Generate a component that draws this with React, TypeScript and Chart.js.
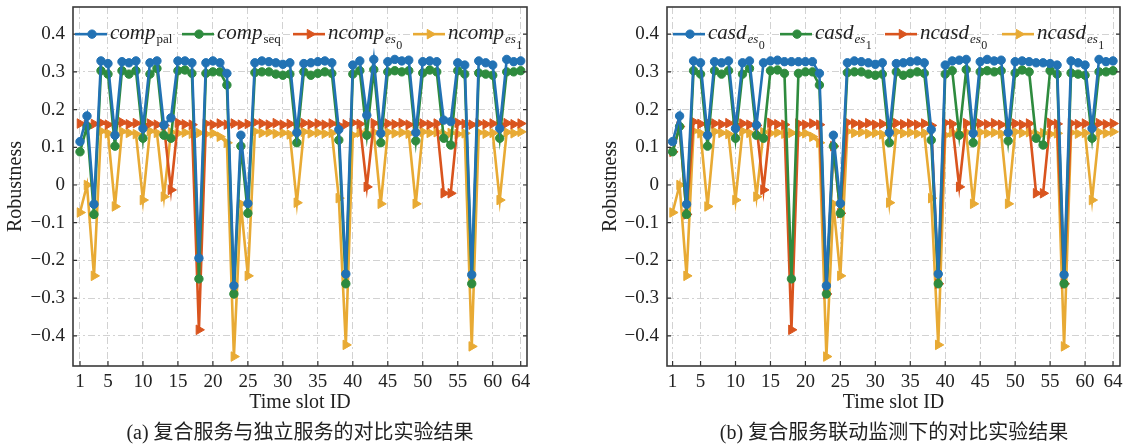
import React, { useEffect, useRef } from 'react';
import { Chart, registerables } from 'chart.js';

Chart.register(...registerables);

// ---------------- data ----------------
const timeSlots = Array.from({ length: 64 }, (_, i) => i + 1);
const xTickValues = [1, 5, 10, 15, 20, 25, 30, 35, 40, 45, 50, 55, 60, 64];
const yTickValues = [-0.4, -0.3, -0.2, -0.1, 0, 0.1, 0.2, 0.3, 0.4];

// panel (a)
const compPal = [
  0.115, 0.183, -0.051, 0.329, 0.322, 0.132, 0.327, 0.324,
  0.329, 0.150, 0.324, 0.329, 0.159, 0.178, 0.329, 0.329,
  0.324, -0.194, 0.324, 0.329, 0.324, 0.296, -0.267, 0.132,
  -0.049, 0.324, 0.329, 0.327, 0.324, 0.320, 0.324, 0.139,
  0.322, 0.324, 0.327, 0.329, 0.324, 0.147, -0.236, 0.318,
  0.329, 0.185, 0.333, 0.137, 0.327, 0.333, 0.329, 0.331,
  0.139, 0.327, 0.329, 0.327, 0.172, 0.168, 0.324, 0.318,
  -0.238, 0.329, 0.324, 0.318, 0.150, 0.333, 0.327, 0.329,
];
const compSeq = [
  0.088, 0.155, -0.078, 0.303, 0.294, 0.103, 0.303, 0.294,
  0.303, 0.124, 0.294, 0.309, 0.132, 0.124, 0.303, 0.305,
  0.296, -0.249, 0.296, 0.300, 0.300, 0.265, -0.289, 0.103,
  -0.075, 0.298, 0.300, 0.300, 0.294, 0.291, 0.294, 0.112,
  0.300, 0.291, 0.296, 0.300, 0.296, 0.119, -0.262, 0.294,
  0.303, 0.132, 0.306, 0.112, 0.300, 0.303, 0.300, 0.303,
  0.117, 0.297, 0.305, 0.300, 0.124, 0.106, 0.303, 0.294,
  -0.262, 0.297, 0.294, 0.291, 0.124, 0.300, 0.300, 0.303,
];
const ncompEs0 = [
  0.163, 0.160, 0.162, 0.165, 0.160, 0.163, 0.166, 0.161,
  0.164, 0.159, 0.163, 0.160, 0.158, -0.013, 0.165, 0.161,
  0.160, -0.384, 0.163, 0.160, 0.163, 0.160, 0.163, 0.160,
  0.162, 0.166, 0.163, 0.160, 0.164, 0.160, 0.162, 0.159,
  0.164, 0.161, 0.163, 0.160, 0.163, 0.158, 0.161, 0.165,
  0.162, -0.005, 0.164, 0.160, 0.163, 0.161, 0.164, 0.160,
  0.162, 0.163, 0.160, 0.163, -0.022, -0.022, 0.165, 0.162,
  0.160, 0.164, 0.161, 0.163, 0.160, 0.164, 0.161, 0.163,
];
const ncompEs1 = [
  -0.073, 0.000, -0.241, 0.143, 0.137, -0.057, 0.142, 0.138,
  0.135, -0.040, 0.143, 0.138, -0.031, 0.140, 0.137, 0.139,
  0.136, 0.138, 0.135, 0.137, 0.128, 0.112, -0.455, -0.050,
  -0.241, 0.142, 0.138, 0.140, 0.136, 0.138, 0.134, -0.047,
  0.141, 0.137, 0.139, 0.136, 0.138, -0.035, -0.424, 0.132,
  0.139, 0.137, 0.140, -0.050, 0.140, 0.137, 0.139, 0.136,
  -0.050, 0.141, 0.138, 0.140, 0.136, 0.138, 0.135, 0.137,
  -0.428, 0.139, 0.136, 0.138, -0.040, 0.140, 0.137, 0.141,
];

// panel (b)
const casdEs0 = [
  0.115, 0.183, -0.051, 0.329, 0.324, 0.132, 0.327, 0.324,
  0.329, 0.150, 0.324, 0.329, 0.159, 0.324, 0.329, 0.331,
  0.327, 0.327, 0.327, 0.327, 0.327, 0.296, -0.267, 0.132,
  -0.049, 0.324, 0.329, 0.327, 0.324, 0.320, 0.324, 0.139,
  0.322, 0.324, 0.327, 0.329, 0.324, 0.147, -0.236, 0.318,
  0.329, 0.331, 0.333, 0.137, 0.327, 0.333, 0.329, 0.331,
  0.139, 0.327, 0.329, 0.327, 0.324, 0.324, 0.322, 0.318,
  -0.238, 0.329, 0.324, 0.318, 0.150, 0.333, 0.327, 0.329,
];
const casdEs1 = [
  0.088, 0.155, -0.078, 0.303, 0.294, 0.103, 0.303, 0.294,
  0.303, 0.124, 0.294, 0.309, 0.132, 0.124, 0.303, 0.305,
  0.296, -0.249, 0.296, 0.300, 0.300, 0.265, -0.289, 0.103,
  -0.075, 0.298, 0.300, 0.300, 0.294, 0.291, 0.294, 0.112,
  0.300, 0.291, 0.296, 0.300, 0.296, 0.119, -0.262, 0.294,
  0.303, 0.132, 0.306, 0.112, 0.300, 0.303, 0.300, 0.303,
  0.117, 0.297, 0.305, 0.300, 0.124, 0.106, 0.303, 0.294,
  -0.262, 0.297, 0.294, 0.291, 0.124, 0.300, 0.300, 0.303,
];
const ncasdEs0 = [
  0.088, 0.155, -0.078, 0.168, 0.162, 0.165, 0.163, 0.161,
  0.164, 0.159, 0.163, 0.160, 0.158, -0.013, 0.165, 0.161,
  0.160, -0.384, 0.163, 0.160, 0.163, 0.160, -0.289, 0.103,
  -0.075, 0.166, 0.163, 0.160, 0.164, 0.160, 0.162, 0.159,
  0.164, 0.161, 0.163, 0.160, 0.163, 0.158, -0.262, 0.165,
  0.162, -0.005, 0.164, 0.160, 0.163, 0.161, 0.164, 0.160,
  0.162, 0.163, 0.160, 0.163, -0.022, -0.022, 0.165, 0.162,
  -0.262, 0.164, 0.161, 0.163, 0.160, 0.164, 0.161, 0.163,
];
const ncasdEs1 = [
  -0.073, 0.000, -0.241, 0.143, 0.137, -0.057, 0.142, 0.138,
  0.135, -0.040, 0.143, 0.138, -0.031, 0.140, 0.137, 0.139,
  0.136, 0.138, 0.135, 0.137, 0.128, 0.112, -0.455, -0.050,
  -0.241, 0.142, 0.138, 0.140, 0.136, 0.138, 0.134, -0.047,
  0.141, 0.137, 0.139, 0.136, 0.138, -0.035, -0.424, 0.132,
  0.139, 0.137, 0.140, -0.050, 0.140, 0.137, 0.139, 0.136,
  -0.050, 0.141, 0.138, 0.140, 0.136, 0.138, 0.135, 0.137,
  -0.428, 0.139, 0.136, 0.138, -0.040, 0.140, 0.137, 0.141,
];

// legend texts (main italic name, subscript, sub-subscript)
const legendA = [
  { main: 'comp', sub: 'pal', subItalic: false, subsub: '' },
  { main: 'comp', sub: 'seq', subItalic: false, subsub: '' },
  { main: 'ncomp', sub: 'es', subItalic: true, subsub: '0' },
  { main: 'ncomp', sub: 'es', subItalic: true, subsub: '1' },
];
const legendB = [
  { main: 'casd', sub: 'es', subItalic: true, subsub: '0' },
  { main: 'casd', sub: 'es', subItalic: true, subsub: '1' },
  { main: 'ncasd', sub: 'es', subItalic: true, subsub: '0' },
  { main: 'ncasd', sub: 'es', subItalic: true, subsub: '1' },
];
const seriesNamesA = ['comp_pal', 'comp_seq', 'ncomp_es0', 'ncomp_es1'];
const seriesNamesB = ['casd_es0', 'casd_es1', 'ncasd_es0', 'ncasd_es1'];
const xTitle = 'Time slot ID';
const yTitle = 'Robustness';
const captionA = '(a) 复合服务与独立服务的对比实验结果';
const captionB = '(b) 复合服务联动监测下的对比实验结果';

// ---------------- style ----------------
const COLORS = ['#2272b4', '#2e8b3e', '#d9541e', '#e8aa34'];
const MARKERS = ['circle', 'circle', 'triangle', 'triangle'];
const SERIF = "'Liberation Serif', 'DejaVu Serif', serif";
const TEXT = '#222222';
const H = 448;

type PanelDef = {
  values: number[][];
  names: string[];
  legend: typeof legendA;
  legendX: number[];
  xMin: number;
  xMax: number;
  padLeft: number;
  padRight: number;
  yAxisWidth: number;
};

function drawMarker(ctx: CanvasRenderingContext2D, kind: string, x: number, y: number, color: string) {
  ctx.save();
  ctx.fillStyle = color;
  ctx.strokeStyle = color;
  ctx.lineWidth = 1;
  ctx.beginPath();
  if (kind === 'circle') {
    ctx.arc(x, y, 4.2, 0, Math.PI * 2);
  } else {
    const r = 5.5;
    let rad = Math.PI / 2;
    ctx.moveTo(x + Math.sin(rad) * r, y - Math.cos(rad) * r);
    rad += (2 * Math.PI) / 3;
    ctx.lineTo(x + Math.sin(rad) * r, y - Math.cos(rad) * r);
    rad += (2 * Math.PI) / 3;
    ctx.lineTo(x + Math.sin(rad) * r, y - Math.cos(rad) * r);
    ctx.closePath();
  }
  ctx.fill();
  ctx.stroke();
  ctx.restore();
}

function makeOverlay(def: PanelDef) {
  return {
    id: 'overlay',
    afterDraw(chart: any) {
      const { ctx, chartArea: a, scales } = chart;
      ctx.save();
      // inward ticks
      ctx.strokeStyle = '#333';
      ctx.lineWidth = 1.2;
      ctx.beginPath();
      scales.x.ticks.forEach((t: any) => {
        const px = scales.x.getPixelForValue(t.value);
        ctx.moveTo(px, a.bottom);
        ctx.lineTo(px, a.bottom - 5);
      });
      scales.y.ticks.forEach((t: any) => {
        const py = scales.y.getPixelForValue(t.value);
        ctx.moveTo(a.left, py);
        ctx.lineTo(a.left + 4, py);
        ctx.moveTo(a.right, py);
        ctx.lineTo(a.right - 4, py);
      });
      ctx.stroke();
      // frame
      ctx.strokeStyle = '#3a3a3a';
      ctx.lineWidth = 1.6;
      ctx.strokeRect(a.left, a.top, a.right - a.left, a.bottom - a.top);

      // legend
      const ly = scales.y.getPixelForValue(0.4);
      def.legend.forEach((item, i) => {
        const x0 = a.left + def.legendX[i];
        const color = COLORS[i];
        ctx.strokeStyle = color;
        ctx.lineWidth = 2.6;
        ctx.beginPath();
        ctx.moveTo(x0, ly);
        ctx.lineTo(x0 + 32, ly);
        ctx.stroke();
        drawMarker(ctx, MARKERS[i], x0 + 17, ly, color);
        let tx = x0 + 35;
        ctx.fillStyle = TEXT;
        ctx.textAlign = 'left';
        ctx.textBaseline = 'alphabetic';
        ctx.font = `italic 21px ${SERIF}`;
        ctx.fillText(item.main, tx, ly + 5);
        tx += ctx.measureText(item.main).width + 1;
        ctx.font = `${item.subItalic ? 'italic ' : ''}13px ${SERIF}`;
        ctx.fillText(item.sub, tx, ly + 9);
        const subW = ctx.measureText(item.sub).width;
        if (item.subsub) {
          ctx.font = `12px ${SERIF}`;
          ctx.fillText(item.subsub, tx + subW + 0.5, ly + 15);
        }
      });
      ctx.restore();
    },
  };
}

function buildConfig(def: PanelDef): any {
  const tickFont = { family: SERIF, size: 19 };
  const titleFont = { family: SERIF, size: 20 };
  return {
    type: 'line',
    data: {
      datasets: def.values.map((vals, i) => ({
        label: def.names[i],
        data: timeSlots.map((t, j) => ({ x: t, y: vals[j] })),
        borderColor: COLORS[i],
        backgroundColor: COLORS[i],
        pointBackgroundColor: COLORS[i],
        pointBorderColor: COLORS[i],
        borderWidth: 2.6,
        pointStyle: MARKERS[i],
        pointRotation: MARKERS[i] === 'triangle' ? 90 : 0,
        pointRadius: MARKERS[i] === 'triangle' ? 5.5 : 4.2,
        pointBorderWidth: 1,
        tension: 0,
        fill: false,
      })),
    },
    options: {
      responsive: false,
      animation: false,
      devicePixelRatio: 1,
      layout: { padding: { left: def.padLeft, right: def.padRight, top: 7, bottom: 0 } },
      plugins: { legend: { display: false }, tooltip: { enabled: false } },
      scales: {
        x: {
          type: 'linear',
          min: def.xMin,
          max: def.xMax,
          afterBuildTicks: (s: any) => {
            s.ticks = xTickValues.map((v) => ({ value: v }));
          },
          afterFit: (s: any) => {
            s.height = 82;
            s.paddingLeft = 0;
            s.paddingRight = 0;
          },
          ticks: {
            autoSkip: false,
            maxRotation: 0,
            minRotation: 0,
            padding: 5,
            font: tickFont,
            color: TEXT,
            callback: (v: number) => String(v),
          },
          grid: { color: '#d2d2d2', lineWidth: 1, drawTicks: false },
          border: { display: false, dash: [7, 3, 2, 3] },
          title: { display: true, text: xTitle, font: titleFont, color: TEXT, padding: { top: 0, bottom: 33 } },
        },
        y: {
          type: 'linear',
          min: -0.48,
          max: 0.472,
          afterBuildTicks: (s: any) => {
            s.ticks = yTickValues.map((v) => ({ value: v }));
          },
          afterFit: (s: any) => {
            s.width = def.yAxisWidth;
            s.paddingTop = 0;
            s.paddingBottom = 0;
          },
          ticks: {
            padding: 8,
            font: tickFont,
            color: TEXT,
            callback: (v: number) => {
              if (Math.abs(v) < 1e-9) return '0';
              return (v < 0 ? '\u2212' : '') + Math.abs(v).toFixed(1);
            },
          },
          grid: { color: '#d2d2d2', lineWidth: 1, drawTicks: false },
          border: { display: false, dash: [7, 3, 2, 3] },
          title: { display: true, text: yTitle, font: titleFont, color: TEXT, padding: { top: 4, bottom: 0 } },
        },
      },
    },
    plugins: [makeOverlay(def)],
  };
}

const panelA: PanelDef = {
  values: [compPal, compSeq, ncompEs0, ncompEs1],
  names: seriesNamesA,
  legend: legendA,
  legendX: [2, 109, 220, 340],
  xMin: 0,
  xMax: 64.9,
  padLeft: 0,
  padRight: 37,
  yAxisWidth: 73,
};
const panelB: PanelDef = {
  values: [casdEs0, casdEs1, ncasdEs0, ncasdEs1],
  names: seriesNamesB,
  legend: legendB,
  legendX: [6, 113, 218, 335],
  xMin: 0.2,
  xMax: 65,
  padLeft: 31,
  padRight: 9,
  yAxisWidth: 72,
};

function Panel({ def, left, width }: { def: PanelDef; left: number; width: number }) {
  const ref = useRef<HTMLCanvasElement>(null);
  useEffect(() => {
    const chart = new Chart(ref.current as HTMLCanvasElement, buildConfig(def));
    return () => chart.destroy();
  }, [def]);
  return (
    <canvas
      ref={ref}
      width={width}
      height={H}
      style={{ position: 'absolute', left, top: 0, width, height: H }}
    />
  );
}

const captionStyle: React.CSSProperties = {
  position: 'absolute',
  top: 420,
  width: 500,
  textAlign: 'center',
  fontFamily: "'Liberation Serif', 'Noto Sans CJK SC', serif",
  fontSize: 20,
  lineHeight: '24px',
  color: TEXT,
  whiteSpace: 'nowrap',
};

export default function App() {
  return (
    <div style={{ position: 'absolute', left: 0, top: 0, width: 1129, height: H, background: '#fff', overflow: 'hidden' }}>
      <Panel def={panelA} left={0} width={564} />
      <Panel def={panelB} left={564} width={565} />
      <div style={{ ...captionStyle, left: 300 - 250 }}>{captionA}</div>
      <div style={{ ...captionStyle, left: 894 - 250 }}>{captionB}</div>
    </div>
  );
}
